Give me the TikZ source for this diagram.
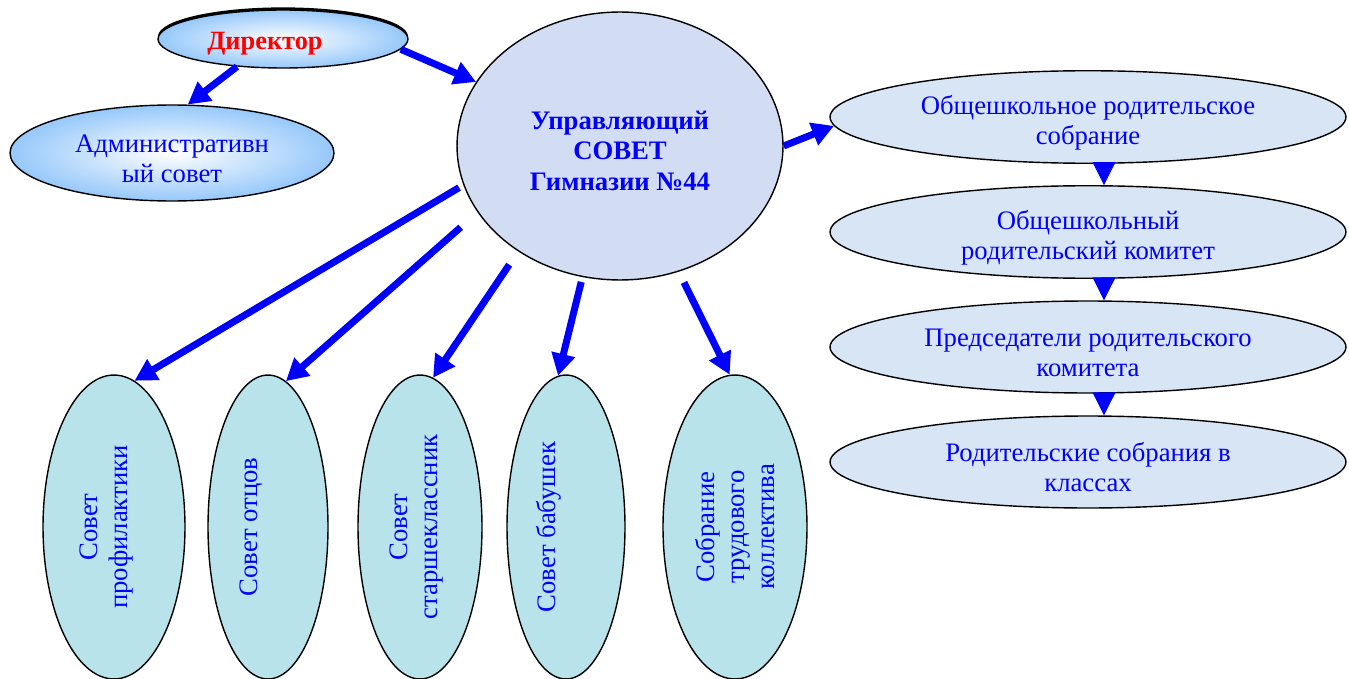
\documentclass[tikz,border=0pt]{standalone}
\usepackage{fontspec}
\setmainfont{Liberation Serif}
\usepackage{graphicx}
\usepackage{tikz}
\usetikzlibrary{shapes.geometric,arrows.meta,shadows}
\definecolor{arrow blue}{RGB}{0,0,255}
\definecolor{head fill}{RGB}{150,200,250}
\definecolor{main fill}{RGB}{210,220,243}
\definecolor{parent fill}{RGB}{216,229,244}
\definecolor{council fill}{RGB}{184,227,235}
\newcommand{\vtext}[2][0pt]{\rotatebox{90}{\begin{tabular}{@{}c@{}}#2\end{tabular}}\hspace*{#1}}
\newcommand{\dropline}[1]{\rule{0pt}{#1}}
\tikzset{oval/.style={ellipse, draw=black, line width=0.8pt, inner sep=0pt, align=center,
        text=arrow blue, font=\fontsize{15.2}{17}\selectfont},
    light/.style={oval, shading=radial, inner color=white, outer color=head fill},
    parent/.style={oval, fill=parent fill, minimum width=10.32cm, minimum height=1.84cm},
    council/.style={oval, fill=council fill, minimum height=6.08cm},
    bigarrow/.style={draw=arrow blue, line width=0.14cm, -{Triangle[length=0.44cm,width=0.46cm]}},
    smallarrow/.style={draw=arrow blue, line width=0.5pt, -{Triangle[length=0.46cm,width=0.46cm]}}}

\begin{document}
\begin{tikzpicture}[x=0.02cm, y=-0.02cm]
    \useasboundingbox (0,0) rectangle (1349,679);
    \node[light, minimum width=5cm, minimum height=1.16cm, text=red,
          font=\fontsize{15}{18}\selectfont\bfseries,
          general shadow={fill=black, shadow yshift=1.5pt}] (director) at (283,39) {\dropline{15.4pt}Директор\hspace*{0.72cm}};
    \node[light, minimum width=6.48cm, minimum height=1.92cm] (admin) at (172,153) {\dropline{17pt}Административн\\ый совет};
    \node[oval, fill=main fill, minimum width=6.52cm, minimum height=5.36cm,
          font=\fontsize{15.2}{17.5}\selectfont\bfseries] (main) at (620,146) {\dropline{16pt}Управляющий\\СОВЕТ\\Гимназии №44};

    \node[parent] (r1) at (1088,117) {\dropline{17pt}Общешкольное родительское\\собрание};
    \node[parent] (r2) at (1088,232) {\dropline{17pt}Общешкольный\\родительский комитет};
    \node[parent] (r3) at (1088,347) {\dropline{17pt}Председатели родительского\\комитета};
    \node[parent] (r4) at (1088,462) {\dropline{17pt}Родительские собрания в\\классах};

    \node[council, minimum width=2.84cm] (c1) at (114,527) {\vtext[0.3cm]{Совет\\профилактики}};
    \node[council, minimum width=2.40cm] (c2) at (268,527) {\vtext[0.66cm]{Совет отцов}};
    \node[council, minimum width=2.48cm] (c3) at (420,527) {\vtext[0.14cm]{Совет\\старшеклассник}};
    \node[council, minimum width=2.36cm] (c4) at (566,527) {\vtext[0.66cm]{Совет бабушек}};
    \node[council, minimum width=2.88cm] (c5) at (735,527) {\vtext[-0.14cm]{Собрание\\трудового\\коллектива}};

    \draw[bigarrow] (director.211) -- (admin.72);
    \draw[bigarrow] (director.355) -- (main.156);
    \draw[bigarrow] (main.0) -- (r1.182);
    \draw[bigarrow, shorten <=0.1cm] (main.194) -- (c1.82);
    \draw[bigarrow, shorten <=0.45cm] (main.205) -- (c2.83);
    \draw[bigarrow, shorten <=0.32cm] (main.226) -- (c3.85);
    \draw[bigarrow, shorten <=0.1cm] (main.254) -- (c4.93);
    \draw[bigarrow, shorten <=0.24cm] (main.295) -- (c5.92);

    \draw[smallarrow] ([xshift=0.32cm]r1.south) -- ([xshift=0.32cm]r2.north);
    \draw[smallarrow] ([xshift=0.32cm]r2.south) -- ([xshift=0.32cm]r3.north);
    \draw[smallarrow] ([xshift=0.32cm]r3.south) -- ([xshift=0.32cm]r4.north);
\end{tikzpicture}
\end{document}
